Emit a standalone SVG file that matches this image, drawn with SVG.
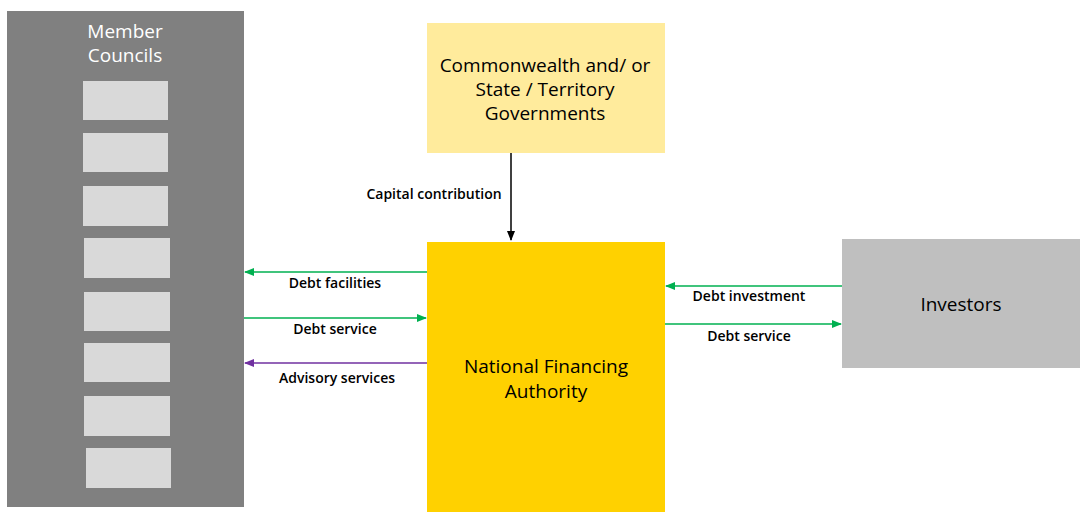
<svg xmlns="http://www.w3.org/2000/svg" width="1089" height="524" viewBox="0 0 1089 524">
<style>
.t{font-family:"Open Sans","DejaVu Sans",sans-serif;font-size:19px;fill:#000;text-anchor:middle}
.w{fill:#fff}
.l{font-family:"Open Sans","DejaVu Sans",sans-serif;font-size:14px;font-weight:600;fill:#000;text-anchor:middle}
.sb{fill:#d9d9d9}
.g{stroke:#00b050;stroke-width:1.5;fill:none}
.p{stroke:#7030a0;stroke-width:1.5;fill:none}
.k{stroke:#000;stroke-width:1.5;fill:none}
</style>
<defs>
<marker id="ag" markerWidth="10" markerHeight="10" refX="9" refY="5" orient="auto" markerUnits="userSpaceOnUse"><path d="M0,1 L10,5 L0,9z" fill="#00b050"/></marker>
<marker id="ap" markerWidth="10" markerHeight="10" refX="9" refY="5" orient="auto" markerUnits="userSpaceOnUse"><path d="M0,1 L10,5 L0,9z" fill="#7030a0"/></marker>
<marker id="ak" markerWidth="10" markerHeight="10" refX="9" refY="5" orient="auto" markerUnits="userSpaceOnUse"><path d="M0,1 L10,5 L0,9z" fill="#000"/></marker>
</defs>
<rect width="1089" height="524" fill="#fff"/>
<g id="member-councils">
<rect x="7" y="11" width="237" height="496" fill="#808080"/>
<text class="t w" x="125" y="38">Member</text>
<text class="t w" x="125" y="62">Councils</text>
<rect class="sb" x="83" y="81" width="85" height="39"/>
<rect class="sb" x="83" y="133" width="85" height="39"/>
<rect class="sb" x="83" y="186" width="85" height="40"/>
<rect class="sb" x="84" y="238" width="86" height="40"/>
<rect class="sb" x="84" y="292" width="86" height="39"/>
<rect class="sb" x="84" y="343" width="86" height="39"/>
<rect class="sb" x="84" y="396" width="86" height="40"/>
<rect class="sb" x="86" y="448" width="85" height="40"/>
</g>
<g id="governments">
<rect x="427" y="23" width="238" height="130" fill="#ffeb9c"/>
<text class="t" x="545" y="72">Commonwealth and/ or</text>
<text class="t" x="545" y="96">State / Territory</text>
<text class="t" x="545" y="120">Governments</text>
</g>
<g id="nfa">
<rect x="427" y="242" width="238" height="270" fill="#ffd100"/>
<text class="t" x="546" y="373">National Financing</text>
<text class="t" x="546" y="398">Authority</text>
</g>
<g id="investors">
<rect x="842" y="239" width="238" height="129" fill="#bfbfbf"/>
<text class="t" x="961" y="311">Investors</text>
</g>
<g id="connectors">
<line class="k" x1="511" y1="153" x2="511" y2="240" marker-end="url(#ak)"/>
<text class="l" x="434" y="199">Capital contribution</text>
<line class="g" x1="427" y1="272" x2="245" y2="272" marker-end="url(#ag)"/>
<text class="l" x="335" y="288">Debt facilities</text>
<line class="g" x1="244" y1="318" x2="426" y2="318" marker-end="url(#ag)"/>
<text class="l" x="335" y="334">Debt service</text>
<line class="p" x1="427" y1="363" x2="245" y2="363" marker-end="url(#ap)"/>
<text class="l" x="337" y="383">Advisory services</text>
<line class="g" x1="842" y1="286" x2="666" y2="286" marker-end="url(#ag)"/>
<text class="l" x="749" y="301">Debt investment</text>
<line class="g" x1="665" y1="324" x2="841" y2="324" marker-end="url(#ag)"/>
<text class="l" x="749" y="341">Debt service</text>
</g>
</svg>
